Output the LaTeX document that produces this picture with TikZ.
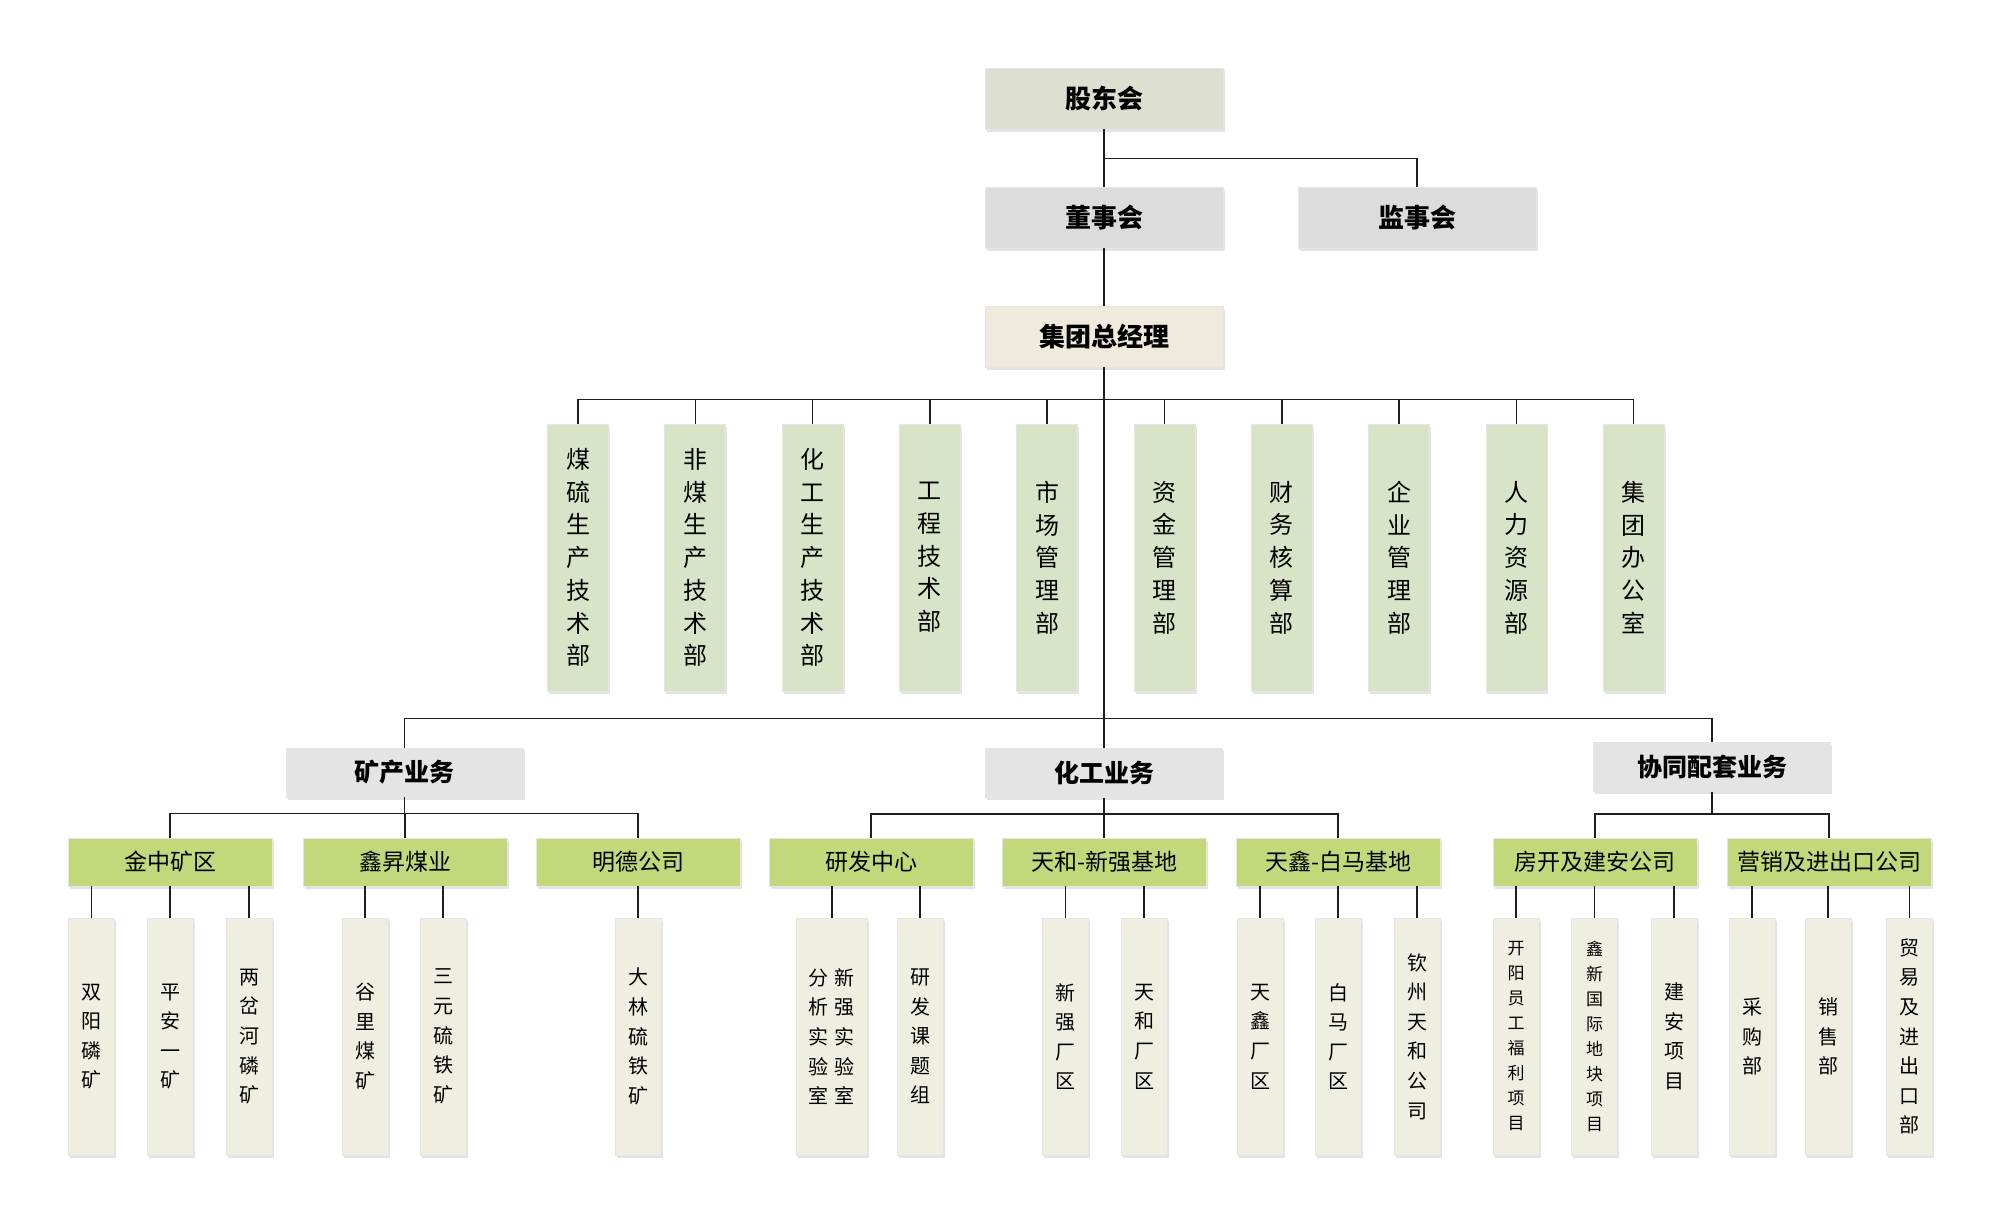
\documentclass[tikz,border=0pt]{standalone}
\usepackage{fontspec}
\newfontfamily\cjk{Noto Sans CJK SC}
\usetikzlibrary{shadows}
\definecolor{cShare}{HTML}{DDE0D1}
\definecolor{cBoard}{HTML}{DCDCDC}
\definecolor{cGM}{HTML}{EFEADC}
\definecolor{cDept}{HTML}{D8E4C7}
\definecolor{cBiz}{HTML}{E4E4E4}
\definecolor{cGreen}{HTML}{C3D87A}
\definecolor{cLeaf}{HTML}{EFEEE1}
\definecolor{cLine}{HTML}{1E1E1E}
\begin{document}
\begin{tikzpicture}[x=1pt,y=-1pt,
  box/.style={inner sep=0pt, draw=black!10, line width=0.8pt,
    drop shadow={shadow xshift=1.5pt,shadow yshift=-2.5pt,opacity=0.22}},
  topbox/.style={box, minimum width=238pt, minimum height=61pt,
    font=\cjk\bfseries\fontsize{26}{30}\selectfont},
  bizbox/.style={box, fill=cBiz, minimum width=237pt, minimum height=49pt,
    font=\cjk\bfseries\fontsize{25}{30}\selectfont},
  dept/.style={box, fill=cDept, minimum width=61pt, minimum height=267pt,
    align=center, font=\cjk\fontsize{24}{32.7}\selectfont},
  unit/.style={box, fill=cGreen, minimum width=204pt, minimum height=48pt,
    font=\cjk\fontsize{23}{28}\selectfont},
  leaf/.style={box, fill=cLeaf, minimum width=46pt, minimum height=237pt,
    align=center, font=\cjk\fontsize{20}{29.6}\selectfont},
  leafsmall/.style={leaf, font=\cjk\fontsize{17}{25}\selectfont},
  link/.style={draw=cLine, line width=1.5pt}
]
\useasboundingbox (0,0) rectangle (2000,1223);
\fill[white] (0,0) rectangle (2000,1223);

% top level
\node[topbox, fill=cShare] (gd) at (1104,98.5) {股东会};
\node[topbox, fill=cBoard] (dsh) at (1104,217.5) {董事会};
\node[topbox, fill=cBoard] (jsh) at (1417,217.5) {监事会};
\node[topbox, fill=cGM] (zjl) at (1104,336.5) {集团总经理};

% departments
\node[dept] (d1) at (578,557.5) {煤\\硫\\生\\产\\技\\术\\部};
\node[dept] (d2) at (695.3,557.5) {非\\煤\\生\\产\\技\\术\\部};
\node[dept] (d3) at (812.6,557.5) {化\\工\\生\\产\\技\\术\\部};
\node[dept] (d4) at (929.9,557.5) {工\\程\\技\\术\\部};
\node[dept] (d5) at (1047.2,557.5) {市\\场\\管\\理\\部};
\node[dept] (d6) at (1164.5,557.5) {资\\金\\管\\理\\部};
\node[dept] (d7) at (1281.8,557.5) {财\\务\\核\\算\\部};
\node[dept] (d8) at (1399.1,557.5) {企\\业\\管\\理\\部};
\node[dept] (d9) at (1516.4,557.5) {人\\力\\资\\源\\部};
\node[dept] (d10) at (1633.7,557.5) {集\\团\\办\\公\\室};

% business lines
\node[bizbox] (kc) at (404.5,772.5) {矿产业务};
\node[bizbox] (hg) at (1104,773) {化工业务};
\node[bizbox] (xt) at (1712,767) {协同配套业务};

% units
\node[unit] (jz) at (170,862) {金中矿区};
\node[unit] (xs) at (405,862) {鑫昇煤业};
\node[unit] (md) at (638,862) {明德公司};
\node[unit] (yf) at (871,862) {研发中心};
\node[unit] (th) at (1104,862) {天和-新强基地};
\node[unit] (tx) at (1338,862) {天鑫-白马基地};
\node[unit] (fk) at (1595,862) {房开及建安公司};
\node[unit] (yx) at (1829,862) {营销及进出口公司};

% leaves
\node[leaf] (l1) at (91.5,1036.5) {双\\阳\\磷\\矿};
\node[leaf] (l2) at (170,1036.5) {平\\安\\一\\矿};
\node[leaf] (l3) at (249,1036.5) {两\\岔\\河\\磷\\矿};
\node[leaf] (l4) at (365,1036.5) {谷\\里\\煤\\矿};
\node[leaf] (l5) at (443,1036.5) {三\\元\\硫\\铁\\矿};
\node[leaf] (l6) at (638,1036.5) {大\\林\\硫\\铁\\矿};
\node[leaf, minimum width=71pt] (l7) at (831.5,1036.5)
  {分\hspace{6pt}新\\析\hspace{6pt}强\\实\hspace{6pt}实\\验\hspace{6pt}验\\室\hspace{6pt}室};
\node[leaf] (l8) at (920,1036.5) {研\\发\\课\\题\\组};
\node[leaf] (l9) at (1065.5,1036.5) {新\\强\\厂\\区};
\node[leaf] (l10) at (1144,1036.5) {天\\和\\厂\\区};
\node[leaf] (l11) at (1260,1036.5) {天\\鑫\\厂\\区};
\node[leaf] (l12) at (1338,1036.5) {白\\马\\厂\\区};
\node[leaf] (l13) at (1417,1036.5) {钦\\州\\天\\和\\公\\司};
\node[leafsmall] (l14) at (1516,1036.5) {开\\阳\\员\\工\\福\\利\\项\\目};
\node[leafsmall] (l15) at (1594.5,1036.5) {鑫\\新\\国\\际\\地\\块\\项\\目};
\node[leaf] (l16) at (1674,1036.5) {建\\安\\项\\目};
\node[leaf] (l17) at (1752,1036.5) {采\\购\\部};
\node[leaf] (l18) at (1828,1036.5) {销\\售\\部};
\node[leaf] (l19) at (1909.5,1036.5) {贸\\易\\及\\进\\出\\口\\部};

% connectors: top
\draw[link] (gd.south) -- (dsh.north);
\draw[link] (gd.south) -- ++(0,29) -| (jsh.north);
\draw[link] (dsh.south) -- (zjl.north);
\foreach \d in {d1,d2,d3,d4,d5,d6,d7,d8,d9,d10}
  \draw[link] (zjl.south) -- ++(0,32) -| (\d.north);
\draw[link] (zjl.south) -- (hg.north);
\draw[link] (zjl.south) -- ++(0,351) -| (kc.north);
\draw[link] (zjl.south) -- ++(0,351) -| (xt.north);

% connectors: business -> units
\foreach \u in {jz,xs,md}
  \draw[link] (kc.south) -- ++(0,16) -| (\u.north);
\foreach \u in {yf,th,tx}
  \draw[link] (hg.south) -- ++(0,16) -| (\u.north);
\foreach \u in {fk,yx}
  \draw[link] (xt.south) -- ++(0,22) -| (\u.north);

% connectors: units -> leaves
\foreach \l/\p in {l1/jz,l2/jz,l3/jz,l4/xs,l5/xs,l6/md,l8/yf,l9/th,l10/th,
    l11/tx,l12/tx,l13/tx,l14/fk,l15/fk,l16/fk,l17/yx,l18/yx,l19/yx}
  \draw[link] (\l.north) -- (\l.north |- \p.south);
\draw[link] ([xshift=0.5pt]l7.north) -- ([xshift=0.5pt]l7.north |- yf.south);
\end{tikzpicture}
\end{document}
